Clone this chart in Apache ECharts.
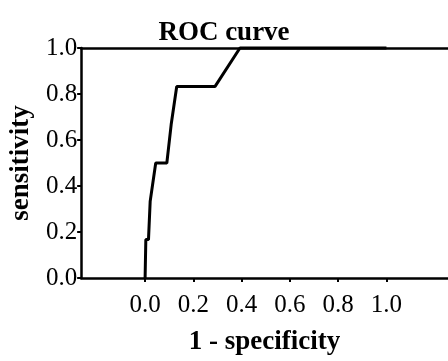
<!DOCTYPE html>
<html>
<head>
<meta charset="utf-8">
<script src="https://cdn.jsdelivr.net/npm/echarts@6/dist/echarts.min.js"></script>
<style>html,body{margin:0;padding:0;background:#fff}#c{width:448px;height:361px}</style>
</head>
<body>
<div id="c"></div>
<script>
// ROC curve points (1 - specificity, sensitivity)
var fpr = [0, 0.003, 0.014, 0.021, 0.028, 0.044, 0.090, 0.108, 0.131, 0.290, 0.393, 1.0];
var sensitivity = [0, 0.167, 0.167, 0.333, 0.333, 0.5, 0.5, 0.667, 0.833, 0.833, 1.0, 1.0];
var xTicks = [0, 0.2, 0.4, 0.6, 0.8, 1.0];
var yTicks = [0, 0.2, 0.4, 0.6, 0.8, 1.0];
var titleText = 'ROC curve';
var xName = '1 - specificity';
var yName = 'sensitivity';

var font = 'Liberation Serif';
var chart = echarts.init(document.getElementById('c'), null, {renderer: 'canvas'});
var pts = fpr.map(function (x, i) { return [x, sensitivity[i]]; });
chart.setOption({
  animation: false,
  backgroundColor: '#fff',
  title: {
    text: titleText, left: 'center', top: 15,
    textStyle: {fontFamily: font, fontWeight: 'bold', fontSize: 27, color: '#000'}
  },
  grid: {left: 81, right: 0, top: 48, bottom: 72, containLabel: false},
  xAxis: [{
    type: 'value', min: -0.265, max: 1.255,
    name: xName, nameLocation: 'middle', nameGap: 51,
    nameTextStyle: {fontFamily: font, fontWeight: 'bold', fontSize: 27, color: '#000'},
    axisLine: {show: true, onZero: false, lineStyle: {color: '#000', width: 2.5}},
    axisTick: {show: true, customValues: xTicks, length: 4, lineStyle: {color: '#000', width: 2}},
    axisLabel: {customValues: xTicks, margin: 15, fontFamily: font, fontSize: 25, color: '#000',
      formatter: function (v) { return v.toFixed(1); }},
    splitLine: {show: false}
  }, {
    type: 'value', position: 'top', min: -0.265, max: 1.255,
    axisLine: {show: true, onZero: false, lineStyle: {color: '#000', width: 2.5}},
    axisTick: {show: false}, axisLabel: {show: false}, splitLine: {show: false}
  }],
  yAxis: {
    type: 'value', min: 0, max: 1, interval: 0.2,
    name: yName, nameLocation: 'middle', nameGap: 45, nameRotate: 90,
    nameTextStyle: {fontFamily: font, fontWeight: 'bold', fontSize: 27, color: '#000'},
    axisLine: {show: true, onZero: false, lineStyle: {color: '#000', width: 2.5}},
    axisTick: {show: true, length: 4, lineStyle: {color: '#000', width: 2}},
    axisLabel: {margin: 4, fontFamily: font, fontSize: 25, color: '#000',
      formatter: function (v) { return v.toFixed(1); }},
    splitLine: {show: false}
  },
  series: [{
    type: 'line', data: pts, showSymbol: false, symbol: 'none',
    lineStyle: {color: '#000', width: 3}, clip: false
  }]
});
</script>
</body>
</html>
